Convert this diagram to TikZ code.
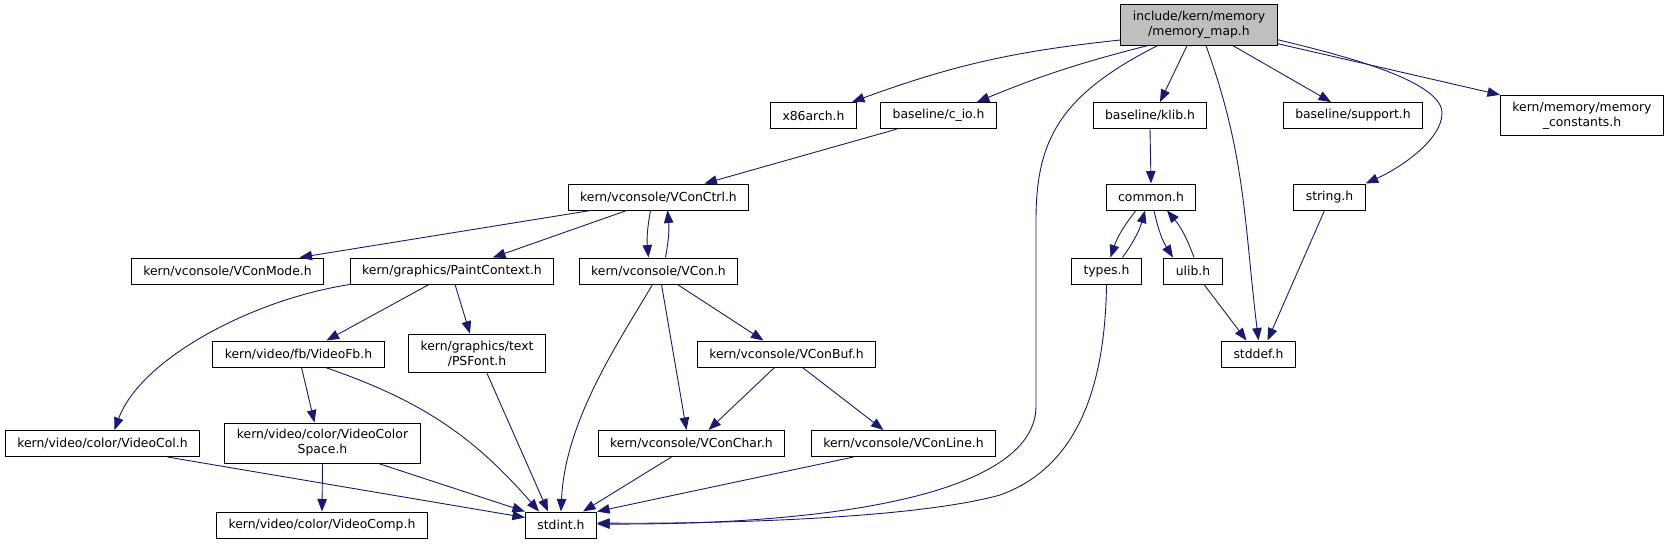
\documentclass[tikz,border=0pt]{standalone}
\usepackage{fontspec}
\setmainfont{DejaVu Sans}
\usepackage{xcolor}
\usepackage{tikz}
\usetikzlibrary{arrows.meta, positioning}
\definecolor{edgeblue}{RGB}{25, 25, 112}
\definecolor{rootgray}{RGB}{191, 191, 191}

\begin{document}
\begin{tikzpicture}[
    x=1pt, y=1pt,
    filebox/.style={rectangle, draw=black, fill=white, line width=1pt, align=center, font=\fontsize{12.4}{15}\selectfont, inner xsep=12pt, inner ysep=6.5pt, minimum height=26pt},
    rootbox/.style={filebox, fill=rootgray},
    arrow/.style={-{Triangle[length=12.5pt, width=9.5pt]}, line width=0.9pt, draw=edgeblue}
]
    \useasboundingbox (0,0) rectangle (1671,-544);

    % Included file
    \node[rootbox] (memmap) at (1199,-25) {include/kern/memory\\/memory\_map.h};

    % First level
    \node[filebox] (x86arch) at (813.5,-115.5) {x86arch.h};
    \node[filebox] (cio) at (938.5,-115.5) {baseline/c\_io.h};
    \node[filebox] (klib) at (1150,-115.5) {baseline/klib.h};
    \node[filebox] (support) at (1353,-115.5) {baseline/support.h};
    \node[filebox] (memconst) at (1582,-115.5) {kern/memory/memory\\\_constants.h};

    % Second level
    \node[filebox] (vconctrl) at (658.5,-197) {kern/vconsole/VConCtrl.h};
    \node[filebox] (common) at (1151,-197) {common.h};
    \node[filebox] (string) at (1329.5,-197) {string.h};

    \node[filebox] (vconmode) at (227.5,-271) {kern/vconsole/VConMode.h};
    \node[filebox] (paint) at (452,-271) {kern/graphics/PaintContext.h};
    \node[filebox] (vcon) at (658.5,-271) {kern/vconsole/VCon.h};
    \node[filebox] (types) at (1106.5,-271) {types.h};
    \node[filebox] (ulib) at (1193,-271) {ulib.h};

    \node[filebox] (videofb) at (298.5,-354) {kern/video/fb/VideoFb.h};
    \node[filebox] (psfont) at (477,-353.5) {kern/graphics/text\\/PSFont.h};
    \node[filebox] (vconbuf) at (786.5,-354) {kern/vconsole/VConBuf.h};
    \node[filebox] (stddef) at (1258.5,-354) {stddef.h};

    \node[filebox] (videocol) at (102.5,-443.5) {kern/video/color/VideoCol.h};
    \node[filebox] (colspace) at (322.5,-443) {kern/video/color/VideoColor\\Space.h};
    \node[filebox] (vconchar) at (691.5,-443.5) {kern/vconsole/VConChar.h};
    \node[filebox] (vconline) at (903.5,-443.5) {kern/vconsole/VConLine.h};

    \node[filebox] (videocomp) at (322,-525) {kern/video/color/VideoComp.h};
    \node[filebox] (stdint) at (561,-525) {stdint.h};

    % Edges from memory_map.h
    \draw[arrow] ([yshift=-15]memmap.west) to[bend right=7] ([xshift=-5]x86arch.north east);
    \draw[arrow] ([xshift=27]memmap.south west) to[bend right=4] ([xshift=-20]cio.north east);
    \draw[arrow] ([xshift=37]memmap.south west) .. controls (1060,-95) and (1036,-140) .. (1036,-220)
        -- (1036,-406) .. controls (1036,-490) and (850,-525) .. ([yshift=1]stdint.east);
    \draw[arrow] ([xshift=-12]memmap.south) -- ([xshift=10]klib.north);
    \draw[arrow] ([xshift=7]memmap.south) to[out=-70, in=97] (stddef.north);
    \draw[arrow] ([xshift=34]memmap.south) -- ([xshift=-22]support.north);
    \draw[arrow] ([yshift=6]memmap.south east) .. controls (1337,-54) and (1442,-80) .. (1442,-113)
        .. controls (1442,-140) and (1400,-168) .. (string.north east);
    \draw[arrow] ([yshift=2]memmap.south east) -- (memconst.north west);

    % Console side
    \draw[arrow] ([xshift=17]cio.south west) -- ([xshift=46]vconctrl.north);
    \draw[arrow] ([xshift=23]vconctrl.south west) -- ([xshift=72]vconmode.north);
    \draw[arrow] ([xshift=59]vconctrl.south west) -- ([xshift=41]paint.north);
    \draw[arrow] ([xshift=-8]vconctrl.south) to[bend right=8] ([xshift=-10]vcon.north);
    \draw[arrow] ([xshift=7]vcon.north) to[bend right=8] ([xshift=9]vconctrl.south);
    \draw[arrow] ([xshift=-6]vcon.south) .. controls (620,-340) and (565,-420) .. (stdint.north);
    \draw[arrow] ([xshift=3]vcon.south) -- ([xshift=-5]vconchar.north);
    \draw[arrow] ([xshift=19]vcon.south) -- ([xshift=-23]vconbuf.north);
    \draw[arrow] ([xshift=-12]vconbuf.south) -- ([xshift=17]vconchar.north);
    \draw[arrow] ([xshift=16]vconbuf.south) -- ([xshift=-20]vconline.north);
    \draw[arrow] ([xshift=-20]vconchar.south) -- ([xshift=22]stdint.north);
    \draw[arrow] ([xshift=-50]vconline.south) -- (stdint.north east);

    % Graphics side
    \draw[arrow] (paint.south west) .. controls (250,-300) and (140,-360) .. ([xshift=12]videocol.north);
    \draw[arrow] ([xshift=-23]paint.south) -- ([xshift=28]videofb.north);
    \draw[arrow] ([xshift=3]paint.south) -- ([xshift=-7]psfont.north);
    \draw[arrow] ([xshift=3]videofb.south) -- ([xshift=-8]colspace.north);
    \draw[arrow] ([xshift=27]videofb.south) to[bend left=15] ([xshift=-22]stdint.north);
    \draw[arrow] ([xshift=10]psfont.south) -- ([xshift=-13]stdint.north);
    \draw[arrow] ([xshift=65]videocol.south) -- ([yshift=-6]stdint.north west);
    \draw[arrow] (colspace.south) -- (videocomp.north);
    \draw[arrow] ([xshift=56]colspace.south) -- (stdint.north west);

    % Library side
    \draw[arrow] (klib.south) -- (common.north);
    \draw[arrow] ([xshift=-15]common.south) to[bend right=10] ([xshift=4]types.north);
    \draw[arrow] ([xshift=16]types.north) to[bend right=10] ([xshift=-6]common.south);
    \draw[arrow] ([xshift=3]common.south) to[bend right=10] ([xshift=-20]ulib.north);
    \draw[arrow] ([xshift=1]ulib.north) to[bend right=10] ([xshift=16]common.south);
    \draw[arrow] ([xshift=11]ulib.south) -- ([xshift=-12]stddef.north);
    \draw[arrow] ([xshift=-5]string.south) -- ([xshift=9]stddef.north);
    \draw[arrow] (types.south) .. controls (1105,-400) and (1070,-470) .. (1000,-495)
        .. controls (910,-520) and (700,-524) .. ([yshift=2]stdint.east);
\end{tikzpicture}
\end{document}
